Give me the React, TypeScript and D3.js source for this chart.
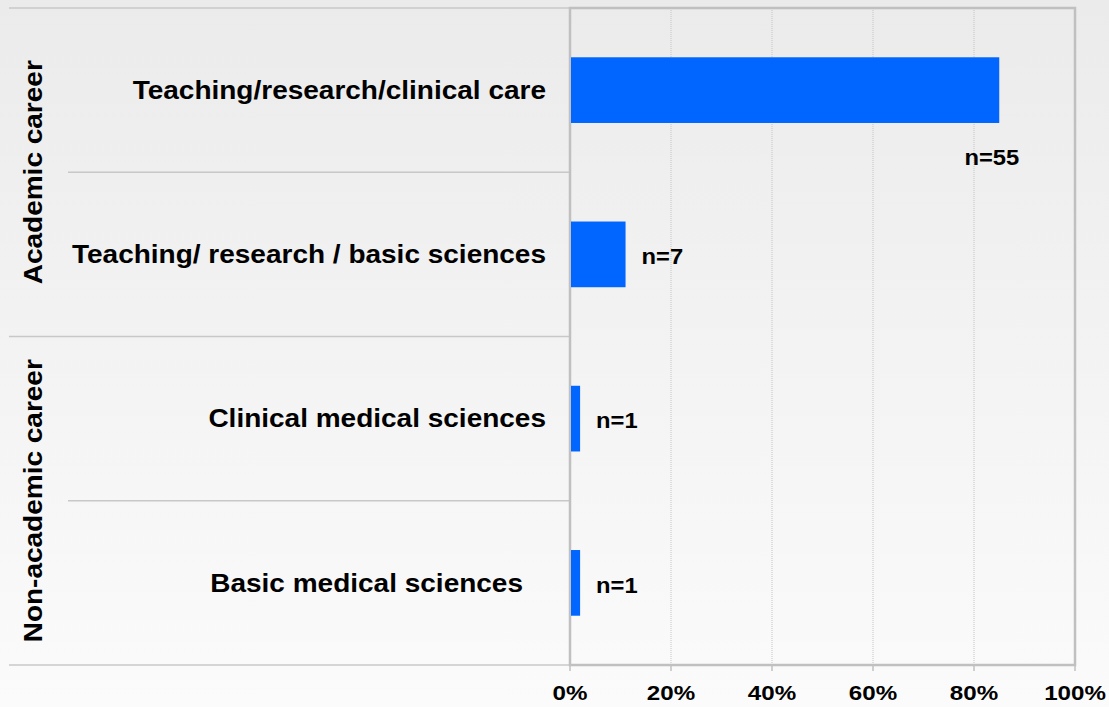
import React from "react";
import * as d3 from "d3";

const categories = [
  "Teaching/research/clinical care",
  "Teaching/ research / basic sciences",
  "Clinical medical sciences",
  "Basic medical sciences",
];
const values = [85, 11, 2, 2];
const counts = ["n=55", "n=7", "n=1", "n=1"];
const groups = ["Academic career", "Non-academic career"];
const groupSpans = [[0, 1], [2, 3]];
const ticks = [0, 20, 40, 60, 80, 100];

const W = 1109, H = 707;
const left = 570, right = 1075, top = 8, bottom = 665;

export default function App() {
  const x = d3.scaleLinear().domain([0, 100]).range([left, right]);
  const y = d3.scaleBand<string>().domain(categories).range([top, bottom]).paddingInner(0.6).paddingOuter(0.3);
  const rowH = (bottom - top) / categories.length;
  const rowY = (i: number) => top + i * rowH;
  const font = "Liberation Sans, Arial, sans-serif";
  const labelOffsets = [0, 0, 0, -23];
  return (
    <svg width={W} height={H} style={{ position: "absolute", left: 0, top: 0 }}>
      <defs>
        <linearGradient id="bg" x1="0" y1="0" x2="0" y2="1">
          <stop offset="0" stopColor="#ebebeb" />
          <stop offset="1" stopColor="#fbfbfb" />
        </linearGradient>
      </defs>
      <rect x={0} y={0} width={W} height={H} fill="url(#bg)" />
      {d3.range(categories.length + 1).map((i) => {
        const isGroupEdge = i === 0 || i === 2 || i === 4;
        return (
          <line key={i} x1={isGroupEdge ? 9 : 68} x2={i === 0 ? right : left} y1={rowY(i)} y2={rowY(i)} stroke="#c8c8c8" strokeWidth={1.5} />
        );
      })}
      {ticks.slice(1, -1).map((t) => (
        <line key={t} x1={x(t)} x2={x(t)} y1={top} y2={bottom} stroke="#c4c4c4" strokeWidth={1} strokeDasharray="1,1" />
      ))}
      <rect x={left} y={top} width={right - left} height={bottom - top} fill="none" stroke="#c0c0c0" strokeWidth={2.5} />
      {ticks.map((t) => (
        <g key={t}>
          <line x1={x(t)} x2={x(t)} y1={bottom} y2={bottom + 6} stroke="#c0c0c0" strokeWidth={1.5} />
          <text transform={`translate(${x(t)},700) scale(1.15,1)`} textAnchor="middle" fontFamily={font} fontWeight="bold" fontSize={21} fill="#000">{t}%</text>
        </g>
      ))}
      {categories.map((c, i) => (
        <rect key={c} x={x(0) + 1} y={y(c)!} width={x(values[i]) - x(0) - 1} height={y.bandwidth()} fill="#0066ff" />
      ))}
      {categories.map((c, i) => (
        <text key={c} transform={`translate(${546 + labelOffsets[i]},${y(c)! + y.bandwidth() / 2}) scale(1.12,1)`} dy="0.35em" textAnchor="end" fontFamily={font} fontWeight="bold" fontSize={25} fill="#000">{c}</text>
      ))}
      {categories.map((c, i) => {
        const first = i === 0;
        const tx = first ? x(values[i]) + 20 : x(values[i]) + 16;
        const ty = first ? y(c)! + y.bandwidth() + 34 : y(c)! + y.bandwidth() / 2 + 2;
        return (
          <text key={c} transform={`translate(${tx},${ty}) scale(1.08,1)`} dy="0.35em" textAnchor={first ? "end" : "start"} fontFamily={font} fontWeight="bold" fontSize={22} fill="#000">{counts[i]}</text>
        );
      })}
      {groups.map((g, gi) => {
        const cy = (rowY(groupSpans[gi][0]) + rowY(groupSpans[gi][1] + 1)) / 2;
        return (
          <text key={g} transform={`translate(33,${cy}) rotate(-90) scale(1.12,1)`} dy="0.35em" textAnchor="middle" fontFamily={font} fontWeight="bold" fontSize={25} fill="#000">{g}</text>
        );
      })}
    </svg>
  );
}
